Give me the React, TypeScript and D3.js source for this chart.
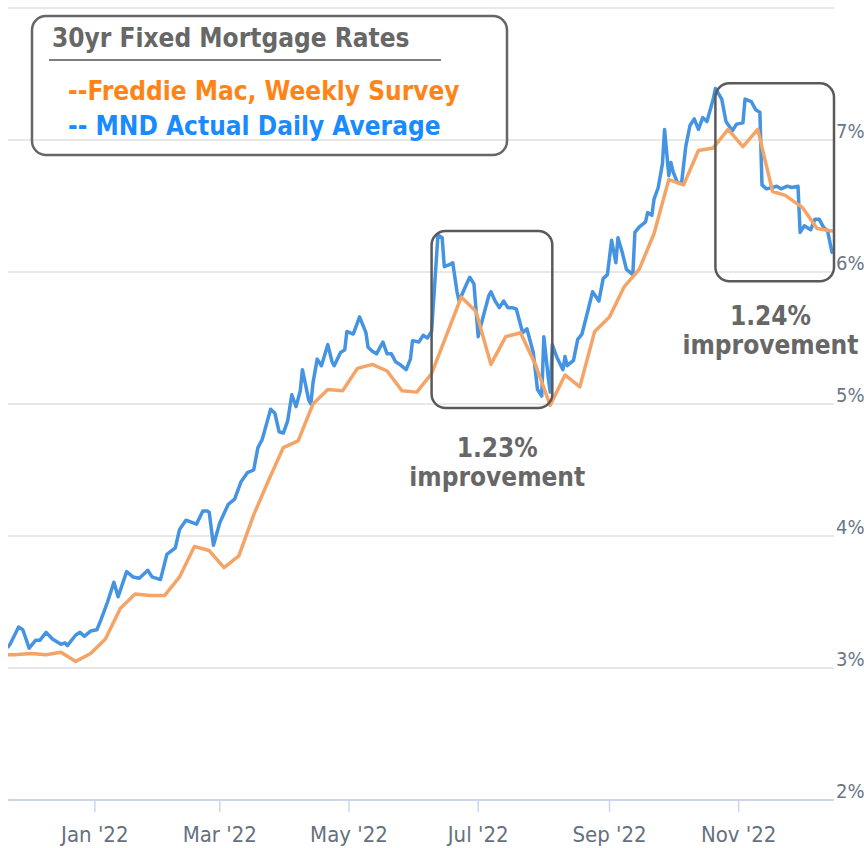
import * as d3 from "d3";

// MND daily average
const mndDates = [
  "2021-11-21", "2021-11-22", "2021-11-26", "2021-11-28", "2021-12-01", "2021-12-04", "2021-12-06", "2021-12-09",
  "2021-12-12", "2021-12-16", "2021-12-18", "2021-12-19", "2021-12-23", "2021-12-25", "2021-12-27", "2021-12-30",
  "2022-01-02", "2022-01-04", "2022-01-07", "2022-01-10", "2022-01-12", "2022-01-16", "2022-01-19", "2022-01-22",
  "2022-01-26", "2022-01-28", "2022-02-01", "2022-02-04", "2022-02-08", "2022-02-10", "2022-02-13", "2022-02-18",
  "2022-02-21", "2022-02-23", "2022-02-24", "2022-02-26", "2022-03-01", "2022-03-05", "2022-03-08", "2022-03-11",
  "2022-03-14", "2022-03-17", "2022-03-19", "2022-03-21", "2022-03-25", "2022-03-27", "2022-03-29", "2022-03-31",
  "2022-04-02", "2022-04-04", "2022-04-06", "2022-04-08", "2022-04-09", "2022-04-12", "2022-04-13", "2022-04-14",
  "2022-04-16", "2022-04-18", "2022-04-21", "2022-04-23", "2022-04-24", "2022-04-27", "2022-04-29", "2022-04-30",
  "2022-05-03", "2022-05-06", "2022-05-09", "2022-05-10", "2022-05-12", "2022-05-14", "2022-05-17", "2022-05-19",
  "2022-05-21", "2022-05-23", "2022-05-25", "2022-05-28", "2022-05-30", "2022-05-31", "2022-06-03", "2022-06-05",
  "2022-06-07", "2022-06-09", "2022-06-12", "2022-06-14", "2022-06-15", "2022-06-18", "2022-06-19", "2022-06-21",
  "2022-06-22", "2022-06-25", "2022-06-27", "2022-06-29", "2022-07-01", "2022-07-03", "2022-07-06", "2022-07-07",
  "2022-07-09", "2022-07-11", "2022-07-13", "2022-07-15", "2022-07-17", "2022-07-19", "2022-07-22", "2022-07-24",
  "2022-07-27", "2022-07-29", "2022-07-31", "2022-08-01", "2022-08-03", "2022-08-04", "2022-08-05", "2022-08-07",
  "2022-08-10", "2022-08-11", "2022-08-12", "2022-08-15", "2022-08-17", "2022-08-19", "2022-08-22", "2022-08-24",
  "2022-08-27", "2022-08-29", "2022-08-31", "2022-09-02", "2022-09-04", "2022-09-05", "2022-09-07", "2022-09-09",
  "2022-09-12", "2022-09-13", "2022-09-15", "2022-09-18", "2022-09-19", "2022-09-21", "2022-09-22", "2022-09-24",
  "2022-09-26", "2022-09-27", "2022-09-29", "2022-09-30", "2022-10-01", "2022-10-03", "2022-10-05", "2022-10-07",
  "2022-10-09", "2022-10-11", "2022-10-13", "2022-10-15", "2022-10-17", "2022-10-20", "2022-10-21", "2022-10-24",
  "2022-10-26", "2022-10-29", "2022-10-31", "2022-11-03", "2022-11-04", "2022-11-07", "2022-11-09", "2022-11-11",
  "2022-11-12", "2022-11-14", "2022-11-17", "2022-11-19", "2022-11-21", "2022-11-24", "2022-11-26", "2022-11-29",
  "2022-11-30", "2022-12-02", "2022-12-05", "2022-12-07", "2022-12-09", "2022-12-11", "2022-12-13", "2022-12-15",
];
const mndRates = [
  3.16, 3.18, 3.31, 3.29, 3.15, 3.21, 3.21, 3.27,
  3.22, 3.18, 3.19, 3.17, 3.25, 3.27, 3.24, 3.28,
  3.29, 3.37, 3.5, 3.65, 3.54, 3.73, 3.69, 3.68,
  3.74, 3.69, 3.67, 3.86, 3.91, 4.05, 4.12, 4.09,
  4.19, 4.19, 4.18, 3.93, 4.1, 4.24, 4.28, 4.41,
  4.48, 4.5, 4.67, 4.73, 4.96, 4.93, 4.79, 4.78,
  4.87, 5.07, 4.98, 5.1, 5.26, 5.03, 5.0, 5.16,
  5.34, 5.29, 5.45, 5.32, 5.29, 5.39, 5.41, 5.55,
  5.53, 5.66, 5.54, 5.43, 5.4, 5.38, 5.47, 5.38,
  5.38, 5.32, 5.3, 5.26, 5.34, 5.48, 5.47, 5.52,
  5.5, 5.55, 6.28, 6.26, 6.04, 6.06, 6.07, 5.85,
  5.78, 5.89, 5.96, 5.91, 5.51, 5.64, 5.82, 5.85,
  5.78, 5.73, 5.78, 5.73, 5.73, 5.72, 5.54, 5.57,
  5.39, 5.11, 5.06, 5.51, 5.21, 5.09, 5.45, 5.36,
  5.26, 5.36, 5.29, 5.33, 5.49, 5.53, 5.72, 5.85,
  5.78, 5.95, 5.98, 6.24, 6.07, 6.26, 6.15, 6.02,
  5.98, 6.3, 6.34, 6.38, 6.45, 6.43, 6.55, 6.64,
  6.82, 7.08, 6.73, 6.83, 6.76, 6.68, 6.67, 6.95,
  7.11, 7.16, 7.08, 7.17, 7.14, 7.31, 7.39, 7.31,
  7.14, 7.07, 7.12, 7.13, 7.31, 7.29, 7.23, 7.21,
  6.66, 6.63, 6.64, 6.65, 6.63, 6.65, 6.64, 6.65,
  6.3, 6.35, 6.32, 6.4, 6.4, 6.34, 6.31, 6.15,
];

// Freddie Mac weekly survey
const freddieDates = [
  "2021-11-18", "2021-11-24", "2021-12-02", "2021-12-09", "2021-12-16", "2021-12-23", "2021-12-30",
  "2022-01-06", "2022-01-13", "2022-01-20", "2022-01-27", "2022-02-03", "2022-02-10", "2022-02-17",
  "2022-02-24", "2022-03-03", "2022-03-10", "2022-03-17", "2022-03-24", "2022-03-31", "2022-04-07",
  "2022-04-14", "2022-04-21", "2022-04-28", "2022-05-05", "2022-05-12", "2022-05-19", "2022-05-26",
  "2022-06-02", "2022-06-09", "2022-06-23", "2022-06-30", "2022-07-07", "2022-07-14", "2022-07-21",
  "2022-07-28", "2022-08-04", "2022-08-11", "2022-08-18", "2022-08-25", "2022-09-01", "2022-09-08",
  "2022-09-15", "2022-09-22", "2022-09-29", "2022-10-06", "2022-10-13", "2022-10-20", "2022-10-27",
  "2022-11-03", "2022-11-10", "2022-11-17", "2022-11-23", "2022-12-01", "2022-12-08", "2022-12-15",
];
const freddieRates = [
  3.1, 3.1, 3.11, 3.1, 3.12, 3.05, 3.11,
  3.22, 3.45, 3.56, 3.55, 3.55, 3.69, 3.92,
  3.89, 3.76, 3.85, 4.16, 4.42, 4.67, 4.72,
  5.0, 5.11, 5.1, 5.27, 5.3, 5.25, 5.1,
  5.09, 5.23, 5.81, 5.7, 5.3, 5.51, 5.54,
  5.3, 4.99, 5.22, 5.13, 5.55, 5.66, 5.89,
  6.02, 6.29, 6.7, 6.66, 6.92, 6.94, 7.08,
  6.95, 7.08, 6.61, 6.58, 6.49, 6.33, 6.31,
];

const rateTicks = [2, 3, 4, 5, 6, 7, 8];
const domainDates = ["2021-11-21", "2022-12-16"];

// highlighted drops: date span, rate span, label
const boxFrom = ["2022-06-09", "2022-10-21"];
const boxTo = ["2022-08-05", "2022-12-16"];
const boxHigh = [6.31, 7.43];
const boxLow = [4.97, 5.93];
const boxPct = ["1.23%", "1.24%"];
const boxLabelDate = ["2022-07-10", "2022-11-16"];
const boxLabelRate = [4.6, 5.6];

const legendTitle = "30yr Fixed Mortgage Rates";
const legendFreddie = "--Freddie Mac, Weekly Survey";
const legendMnd = "-- MND Actual Daily Average";

const W = 864;
const H = 848;
const FONT = "'DejaVu Sans Condensed', 'DejaVu Sans', sans-serif";
const BLUE = "#4494e3";
const ORANGE = "#f4a466";
const GRAY = "#676767";

const parse = d3.timeParse("%Y-%m-%d");

export default function App() {
  const x = d3
    .scaleTime()
    .domain(domainDates.map((d) => parse(d)!))
    .range([8, 834]);
  const y = d3.scaleLinear().domain([2, 8]).range([800, 8]);

  const mnd = mndDates.map((d, i) => ({ date: parse(d)!, v: mndRates[i] }));
  const freddie = freddieDates.map((d, i) => ({ date: parse(d)!, v: freddieRates[i] }));

  const line = d3
    .line<{ date: Date; v: number }>()
    .x((d) => x(d.date))
    .y((d) => y(d.v));

  const monthTicks = x.ticks(d3.timeMonth.every(2)!);
  const fmt = d3.timeFormat("%b '%y");
  const [x0, x1] = x.range();

  return (
    <svg
      width={W}
      height={H}
      style={{ position: "absolute", left: 0, top: 0, background: "#fff", fontStretch: "condensed" }}
    >
      <defs>
        <clipPath id="plot">
          <rect x={x0} y={0} width={x1 - x0} height={800} />
        </clipPath>
      </defs>

      {/* grid */}
      {rateTicks.map((t) => (
        <line key={t} x1={x0} x2={x1} y1={y(t)} y2={y(t)} stroke="#e8e8e8" strokeWidth={2} />
      ))}
      <line x1={x0} x2={x1} y1={y(2)} y2={y(2)} stroke="#ccd6eb" strokeWidth={2} />
      {monthTicks.map((t) => (
        <g key={+t}>
          <line x1={x(t)} x2={x(t)} y1={y(2)} y2={y(2) + 12} stroke="#ccd6eb" strokeWidth={1.5} />
          <text x={x(t)} y={842} textAnchor="middle" fontFamily={FONT} fontSize={22} fill="#65707e">
            {fmt(t)}
          </text>
        </g>
      ))}
      {rateTicks
        .filter((t) => t < 8)
        .map((t) => (
          <text key={t} x={836} y={y(t) - 2} fontFamily={FONT} fontSize={20} fill="#6b7686">
            {t}%
          </text>
        ))}

      {/* series */}
      <g clipPath="url(#plot)" fill="none" strokeLinejoin="round" strokeLinecap="round">
        <path d={line(mnd)!} stroke={BLUE} strokeWidth={3.5} />
        <path d={line(freddie)!} stroke={ORANGE} strokeWidth={3.5} />
      </g>

      {/* annotations */}
      {boxPct.map((pct, i) => {
        const bx0 = x(parse(boxFrom[i])!);
        const bx1 = x(parse(boxTo[i])!);
        const by0 = y(boxHigh[i]);
        const by1 = y(boxLow[i]);
        const lx = x(parse(boxLabelDate[i])!);
        const ly = y(boxLabelRate[i]);
        return (
          <g key={pct}>
            <rect
              x={bx0}
              y={by0}
              width={bx1 - bx0}
              height={by1 - by0}
              rx={14}
              fill="none"
              stroke="#5a5a5a"
              strokeWidth={2.5}
            />
            <text x={lx} y={ly} textAnchor="middle" fontFamily={FONT} fontWeight="bold" fontSize={26} fill={GRAY}>
              {pct}
            </text>
            <text x={lx} y={ly + 29} textAnchor="middle" fontFamily={FONT} fontWeight="bold" fontSize={26} fill={GRAY}>
              improvement
            </text>
          </g>
        );
      })}

      {/* legend */}
      <rect x={32} y={16} width={475} height={139} rx={14} fill="none" stroke="#666" strokeWidth={2.5} />
      <text x={52} y={47} fontFamily={FONT} fontWeight="bold" fontSize={26} fill={GRAY}>
        {legendTitle}
      </text>
      <line x1={49} x2={441} y1={60} y2={60} stroke="#555" strokeWidth={1.5} />
      <text x={68} y={100} fontFamily={FONT} fontWeight="bold" fontSize={26} fill="#ff8417">
        {legendFreddie}
      </text>
      <text x={68} y={135} fontFamily={FONT} fontWeight="bold" fontSize={26} fill="#1a8aff" style={{ whiteSpace: "pre" }}>
        {legendMnd}
      </text>
    </svg>
  );
}
